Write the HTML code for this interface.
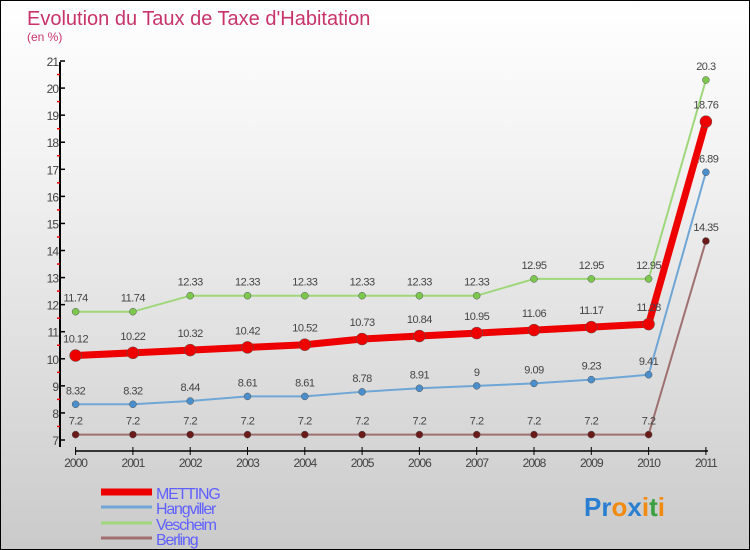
<!DOCTYPE html>
<html><head><meta charset="utf-8"><style>
html,body{margin:0;padding:0}
body{width:750px;height:550px;overflow:hidden;font-family:"Liberation Sans",sans-serif}
#wrap{position:relative;width:748px;height:548px;border:1px solid #000;background:linear-gradient(#ffffff,#f2f2f2 30%,#d9d9d9 75%,#cacaca)}
svg{position:absolute;left:0;top:0}
</style></head><body>
<div id="wrap">
<svg id="chart" width="748" height="548"></svg>
</div>
<script>
const years=["2000","2001","2002","2003","2004","2005","2006","2007","2008","2009","2010","2011"];
const metting=[10.12,10.22,10.32,10.42,10.52,10.73,10.84,10.95,11.06,11.17,11.28,18.76];
const hangviller=[8.32,8.32,8.44,8.61,8.61,8.78,8.91,9,9.09,9.23,9.41,16.89];
const vescheim=[11.74,11.74,12.33,12.33,12.33,12.33,12.33,12.33,12.95,12.95,12.95,20.3];
const berling=[7.2,7.2,7.2,7.2,7.2,7.2,7.2,7.2,7.2,7.2,7.2,14.35];
const yTicks=[7,8,9,10,11,12,13,14,15,16,17,18,19,20,21];
const seriesNames=["METTING","Hangviller","Vescheim","Berling"];

const NS="http://www.w3.org/2000/svg";
const svg=document.getElementById('chart');
const X=i=>74.6+i*57.3;
const Y=v=>439-(v-7)*27.07;
function mk(tag,attrs,parent){const e=document.createElementNS(NS,tag);for(const k in attrs)e.setAttribute(k,attrs[k]);(parent||svg).appendChild(e);return e;}

// title
let t=mk('text',{x:26,y:24,'font-size':20,fill:'#c8346a'});t.textContent="Evolution du Taux de Taxe d'Habitation";


t=mk('text',{x:26,y:40,'font-size':12,fill:'#c8346a'});t.textContent="(en %)";



// y axis
let ax=mk('line',{x1:59,y1:61,x2:59,y2:446,stroke:'#000','stroke-width':2});


yTicks.forEach(v=>{
  mk('line',{x1:59,y1:Y(v),x2:64,y2:Y(v),stroke:'#000','stroke-width':1.5});
  if(v<21) mk('line',{x1:56,y1:Y(v+0.5),x2:59,y2:Y(v+0.5),stroke:'#e00','stroke-width':1.5});
  const l=mk('text',{x:57,y:Y(v)+5,'font-size':12,fill:'#444','text-anchor':'end','letter-spacing':'-1'});l.textContent=v;
  
  
});
// x axis
ax=mk('line',{x1:74,y1:450,x2:707,y2:450,stroke:'#000','stroke-width':1.5});


years.forEach((y,i)=>{
  mk('line',{x1:X(i),y1:446,x2:X(i),y2:454,stroke:'#000','stroke-width':1});
  const l=mk('text',{x:X(i),y:466,'font-size':12,fill:'#444','text-anchor':'middle','letter-spacing':'-1'});l.textContent=y;
  
  
});

function series(data,color,width,r,dot,name,labOff){
  const g=mk('g',{});
  
  
  mk('polyline',{points:data.map((v,i)=>X(i)+','+Y(v)).join(' '),fill:'none',stroke:color,'stroke-width':width,'stroke-linejoin':'round'},g);
  data.forEach((v,i)=>{
    const c=mk('circle',{cx:X(i),cy:Y(v),r:r,fill:dot,stroke:'#555','stroke-width':0.5},g);
    
    
    const l=mk('text',{x:X(i),y:Y(v)-labOff,'font-size':11,fill:'#444','text-anchor':'middle','letter-spacing':'-0.5'},g);
    l.textContent=v;
    
    
  });
}
series(berling,'#a07070',2,3.5,'#6b1a1a','berling',10);
series(hangviller,'#6fa6d6',2,3.5,'#4a8fcc','hangviller',10);
series(vescheim,'#9ed87a',2,3.5,'#7cc84e','vescheim',10);
series(metting,'#ee0000',7,6,'#ee0000','metting',13);

// legend
const lc=['#ee0000','#6fa6d6','#9ed87a','#a07070'],lw=[7,3,3,3],ly=[491,506,522,537];
seriesNames.forEach((n,i)=>{
  const g=mk('g',{});
  
  
  mk('line',{x1:100,y1:ly[i],x2:151,y2:ly[i],stroke:lc[i],'stroke-width':lw[i]},g);
  const l=mk('text',{x:155,y:ly[i]+7,'font-size':16,fill:'#6060ff','letter-spacing':'-1.2'},g);l.textContent=n;
});
// logo
const lg=mk('text',{x:583,y:515,'font-size':26,'font-weight':'bold'});


[['Pr','#2a7fd0'],['o','#f08a10'],['x','#2a7fd0'],['i','#f08a10'],['t','#3aa040'],['i','#f08a10']].forEach(([s,c])=>{const ts=mk('tspan',{fill:c},lg);ts.textContent=s;});
</script>
</body></html>
